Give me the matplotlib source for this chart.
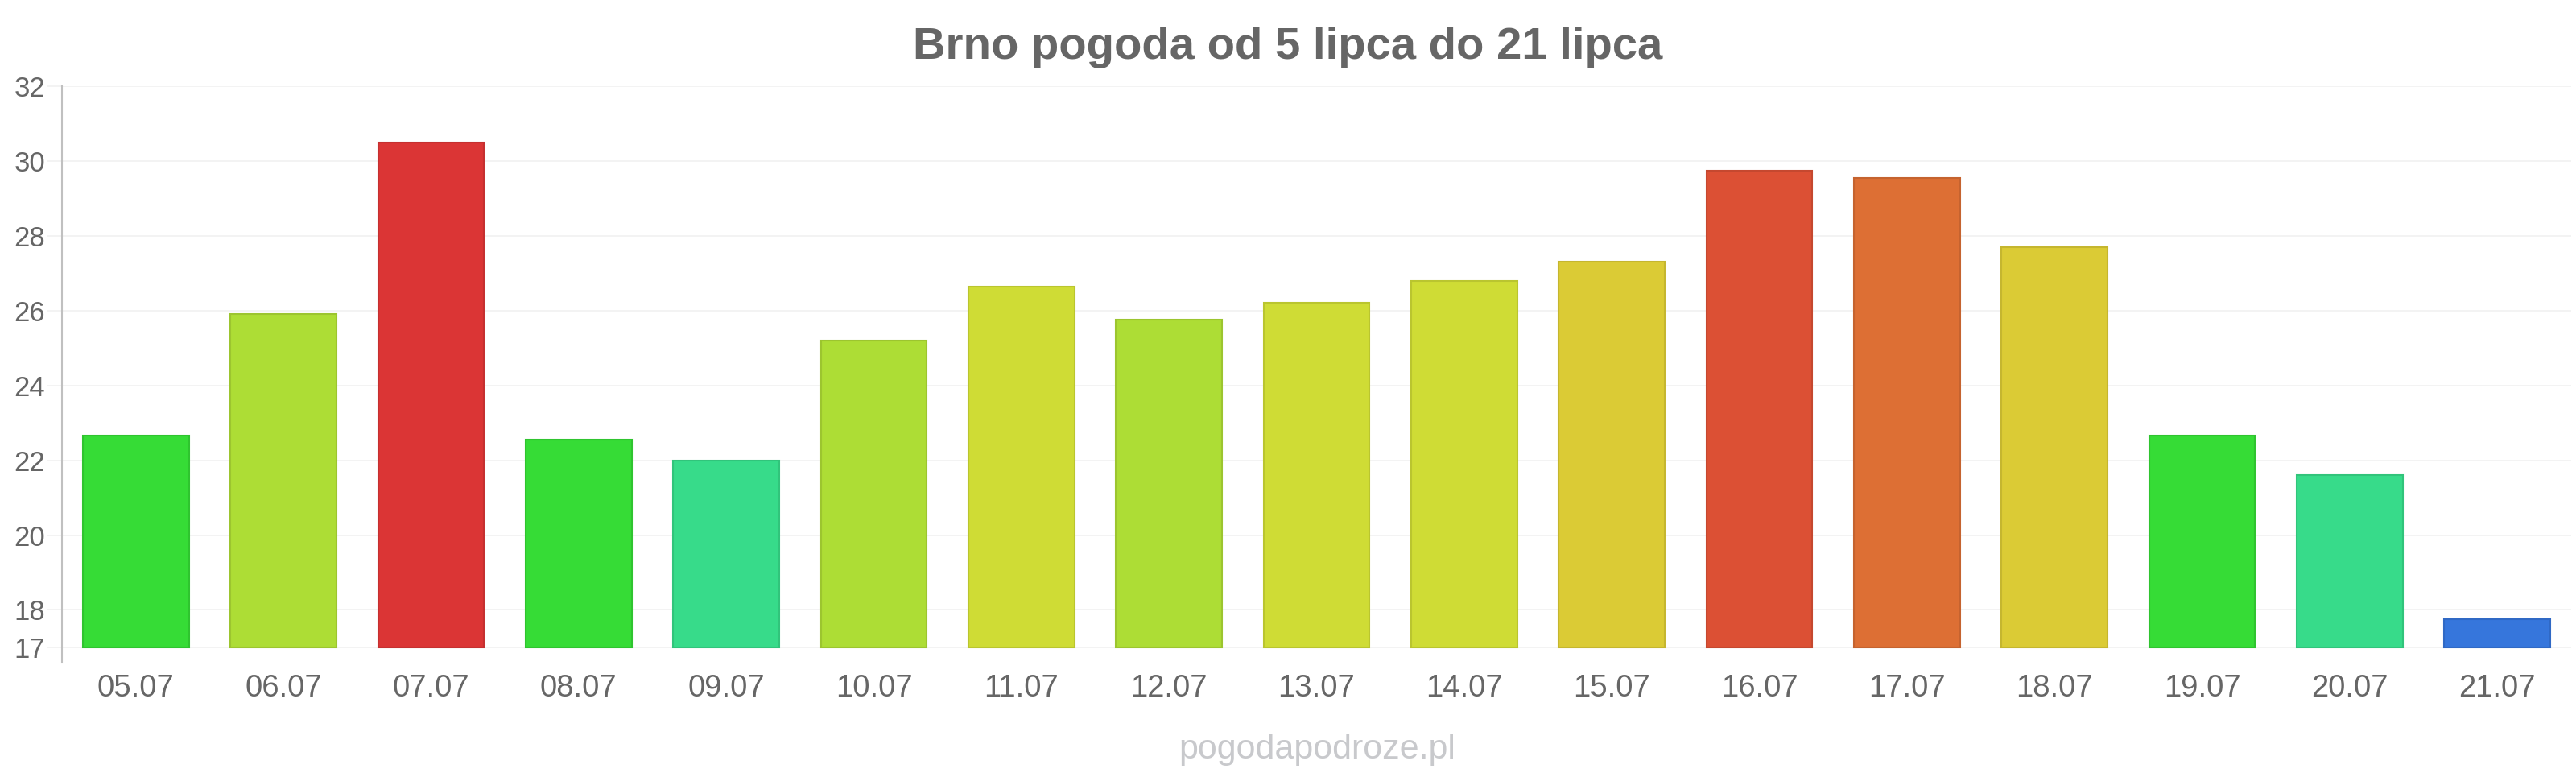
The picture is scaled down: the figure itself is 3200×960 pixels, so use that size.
import matplotlib.pyplot as plt

days = ['05.07', '06.07', '07.07', '08.07', '09.07', '10.07', '11.07', '12.07', '13.07',
        '14.07', '15.07', '16.07', '17.07', '18.07', '19.07', '20.07', '21.07']
temps = [22.65, 25.9, 30.5, 22.55, 22.0, 25.2, 26.65, 25.75, 26.2,
         26.8, 27.3, 29.75, 29.55, 27.7, 22.65, 21.6, 17.75]
colors = ['#36dc36', '#addd35', '#db3535', '#36dc36', '#37db8a', '#addd35', '#cfdc35', '#addd35', '#cfdc35',
          '#cfdc35', '#dbcb35', '#dc5034', '#dd6f34', '#dbcb35', '#36dc36', '#37db8a', '#3676dc']
edges = ['#2fc42f', '#9cc52f', '#c53030', '#2fc42f', '#31c47b', '#9cc52f', '#bac52f', '#9cc52f', '#bac52f',
         '#bac52f', '#c5b62f', '#c5482f', '#c5632f', '#c5b62f', '#2fc42f', '#31c47b', '#3069c5']
yticks = [17, 18, 20, 22, 24, 26, 28, 30, 32]
base = 17

plt.rcParams['font.family'] = ['Liberation Sans', 'DejaVu Sans']

fig = plt.figure(figsize=(32, 9.6), dpi=100)
ax = fig.add_axes([77 / 3200, 1 - 823 / 960, 3117 / 3200, (823 - 107) / 960])

x = list(range(len(days)))
heights = [t - base for t in temps]
ax.bar(x, heights, bottom=base, width=0.718, color=colors, edgecolor=edges, linewidth=1.5, zorder=3)

ax.set_xlim(-0.5, len(days) - 0.5)
ax.set_ylim(16.59, 32)
ax.set_yticks(yticks)
ax.set_yticklabels([str(t) for t in yticks])
ax.set_xticks(x)
ax.set_xticklabels(days)
ax.grid(axis='y', color='#f3f3f3', linewidth=1.4, zorder=0)
ax.tick_params(axis='y', length=14, width=1.4, color='#f3f3f3', labelsize=25, labelcolor='#666666', pad=1)
ax.tick_params(axis='x', length=0, labelsize=27.5, labelcolor='#666666', pad=10)
for s in ['top', 'right', 'bottom']:
    ax.spines[s].set_visible(False)
ax.spines['left'].set_color('#c0c0c0')
ax.spines['left'].set_linewidth(1.5)

fig.text(0.5, 1 - 73 / 960, 'Brno pogoda od 5 lipca do 21 lipca', ha='center', va='baseline',
         fontsize=40.5, fontweight='bold', color='#666666')
fig.text(1636 / 3200, 1 - 942 / 960, 'pogodapodroze.pl', ha='center', va='baseline',
         fontsize=31, color='#c8c9cc')

plt.savefig('out.png', dpi=100)
